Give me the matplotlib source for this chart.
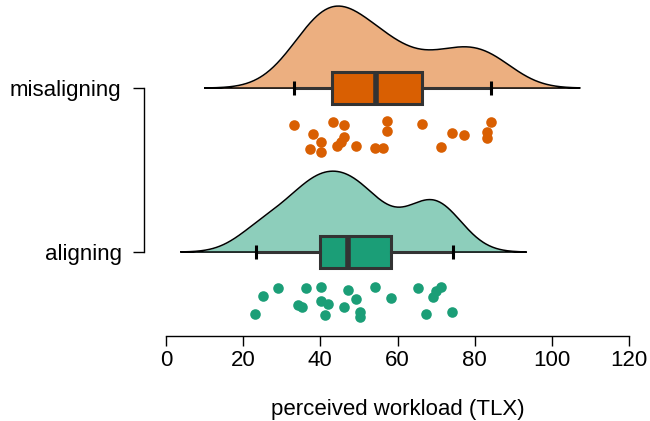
import numpy as np
import matplotlib
matplotlib.use('Agg')
import matplotlib.pyplot as plt

plt.rcParams['font.family'] = ['Liberation Sans', 'DejaVu Sans']

# conditions (bottom to top)
conditions = ['aligning', 'misaligning']
fill_colors = ['#1B9E77', '#D95F02']
slab_colors = ['#8DCEBB', '#ECAF80']

# raw TLX scores
aligning = [23.1, 25.1, 29.1, 34.3, 35.2, 36.2, 40.2, 40.2, 42.1, 41.2, 46.2, 47.3,
            49.2, 50.3, 50.3, 54.2, 58.2, 65.2, 67.3, 69.1, 70.1, 71.3, 74.2]
misaligning = [33.2, 38.2, 37.2, 40.1, 40.1, 43.2, 46.1, 46.1, 45.3, 44.2, 49.2,
               54.2, 56.3, 57.2, 57.2, 66.3, 71.2, 74.2, 77.2, 84.2, 83.3, 83.3]

# vertical jitter of the dots below each baseline
aligning_jit = [0.378, 0.268, 0.220, 0.323, 0.335, 0.220, 0.213, 0.299, 0.317, 0.384,
                0.335, 0.232, 0.287, 0.366, 0.396, 0.213, 0.280, 0.220, 0.378, 0.274,
                0.238, 0.213, 0.366]
misaligning_jit = [0.226, 0.280, 0.372, 0.329, 0.390, 0.207, 0.226, 0.299, 0.329, 0.354,
                   0.354, 0.366, 0.366, 0.201, 0.262, 0.220, 0.360, 0.274, 0.287, 0.207,
                   0.268, 0.305]

# box stats: whislo, q1, med, q3, whishi
aligning_box = [23.2, 39.9, 47.3, 58.2, 74.3]
misaligning_box = [33.2, 43.1, 54.3, 66.3, 84.2]

# kernel bandwidths (estimated from the width of the slabs)
bandwidths = [6.4, 7.7]

data = [aligning, misaligning]
jitter = [aligning_jit, misaligning_jit]
boxes = [aligning_box, misaligning_box]


def kde(vals, bw):
    v = np.asarray(vals)
    n = len(v)
    xs = np.linspace(v.min() - 3 * bw, v.max() + 3 * bw, 400)
    ys = np.exp(-0.5 * ((xs[:, None] - v[None, :]) / bw) ** 2).sum(1) / (n * bw * np.sqrt(2 * np.pi))
    return xs, ys


fig = plt.figure(figsize=(6.5, 4.21), dpi=100)
ax = fig.add_axes([166 / 650, 85 / 421, 463 / 650, 336 / 421])

dens = [kde(d, b) for d, b in zip(data, bandwidths)]
peak = max(ys.max() for _, ys in dens)
scale = 0.5 / peak

for i, pos in enumerate([1, 2]):
    xs, ys = dens[i]
    top = pos + ys * scale
    ax.fill_between(xs, pos, top, color=slab_colors[i], lw=0, zorder=1)
    ax.plot(np.r_[xs, xs[::-1], xs[0]], np.r_[top, np.full_like(xs, pos), top[0]],
            color='black', lw=1.1, zorder=2)

    lo, q1, med, q3, hi = boxes[i]
    stats = [dict(whislo=lo, q1=q1, med=med, q3=q3, whishi=hi, fliers=[])]
    ax.bxp(stats, positions=[pos], vert=False, widths=0.2, patch_artist=True,
           showcaps=False, manage_ticks=False,
           boxprops=dict(facecolor=fill_colors[i], edgecolor='#333333', lw=2.2),
           medianprops=dict(color='#333333', lw=4),
           whiskerprops=dict(color='#333333', lw=2.2), zorder=3)
    ax.plot([lo, lo], [pos - 0.045, pos + 0.045], color='black', lw=2.2, zorder=3,
            solid_capstyle='butt')
    ax.plot([hi, hi], [pos - 0.045, pos + 0.045], color='black', lw=2.2, zorder=3,
            solid_capstyle='butt')

    ax.scatter(data[i], pos - np.array(jitter[i]), s=58, color=fill_colors[i],
               lw=0, zorder=4)

ax.set_xlim(0, 120)
ax.set_ylim(0.488, 2.537)
ax.set_xticks([0, 20, 40, 60, 80, 100, 120])
ax.set_yticks([1, 2])
ax.set_yticklabels(conditions)
for s in ['top', 'right']:
    ax.spines[s].set_visible(False)
ax.spines['left'].set_bounds(1, 2)
ax.spines['left'].set_position(('outward', 16))
ax.spines['bottom'].set_bounds(0, 120)
for s in ['left', 'bottom']:
    ax.spines[s].set_linewidth(1.0)
ax.tick_params(axis='x', length=7, width=1.0, pad=3, labelsize=16)
ax.tick_params(axis='y', length=8, width=1.0, pad=8, labelsize=16)
ax.set_xlabel('perceived workload (TLX)', fontsize=16, labelpad=20)
ax.patch.set_visible(False)

plt.savefig('out.png', dpi=100)
